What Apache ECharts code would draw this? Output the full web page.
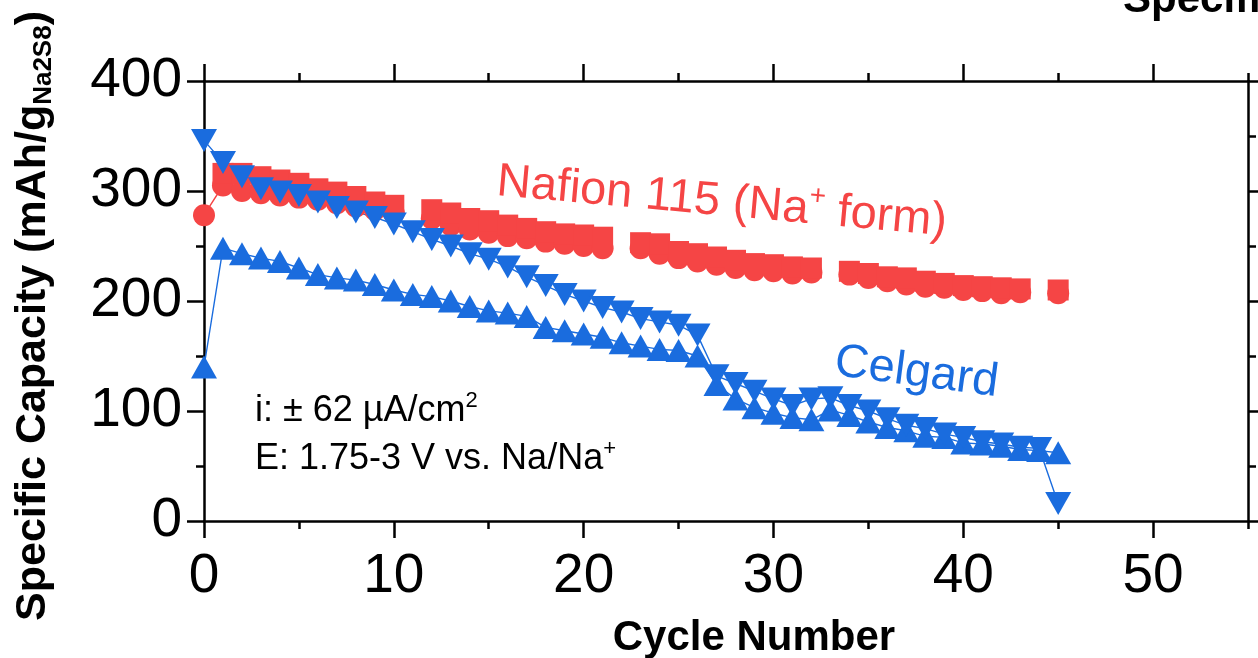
<!DOCTYPE html>
<html>
<head>
<meta charset="utf-8">
<script src="https://cdn.jsdelivr.net/npm/echarts@6/dist/echarts.min.js"></script>
<style>
html, body { margin: 0; padding: 0; background: #fff; }
#main { width: 1258px; height: 658px; }
</style>
</head>
<body>
<div id="main"></div>
<script>
const cycles = [0, 1, 2, 3, 4, 5, 6, 7, 8, 9, 10, 11, 12, 13, 14, 15, 16, 17, 18, 19, 20, 21, 22,
    23, 24, 25, 26, 27, 28, 29, 30, 31, 32, 33, 34, 35, 36, 37, 38, 39, 40, 41, 42, 43, 44, 45];

// Nafion 115 (circles / squares), null = no point that cycle
const nafionCircle = [278, 305, 300, 298, 296, 294, 292, 289, 286, 283, 280, null, 275, 269, 265, 262, 259, 257,
    254, 252, 250, 248, null, 248, 243, 239, 236, 233, 230, 228, 227, 225, 226, null, 224, 221, 218, 215, 213, 212,
    210, 209, 207, 208, null, 207];
const nafionSquare = [null, 316, 316, 313, 310, 307, 302, 299, 295, 290, 287, null, 283, 280, 275, 273, 269, 266,
    263, 261, 260, 258, null, 253, 252, 245, 243, 240, 237, 234, 233, 231, 230, null, 227, 225, 222, 221, 218, 216,
    214, 213, 212, 211, null, 210];

// Celgard (up / down triangles)
const celgardUp = [140, 248, 243, 239, 236, 230, 224, 221, 219, 215, 210, 206, 204, 200, 195, 191, 189, 186, 176,
    173, 170, 167, 162, 159, 156, 155, 150, 124, 111, 103, 98, 94, 92, 101, 96, 90, 85, 82, 77, 76, 71, 70, 68, 65,
    64, 62];
const celgardDown = [346, 326, 313, 302, 299, 296, 290, 285, 281, 276, 270, 263, 256, 250, 243, 238, 231, 222, 214,
    206, 200, 194, 190, 184, 181, 178, 169, 132, 125, 118, 111, 105, 111, 112, 105, 100, 93, 87, 84, 79, 76, 72, 70,
    67, 66, 16];

const xMajor = [0, 10, 20, 30, 40, 50];
const xMinor = [5, 15, 25, 35, 45, 55];

const red = '#F54545';
const blue = '#1A6CDE';
const font = 'Liberation Sans, Arial, sans-serif';

function pairs(vals) {
    return cycles.map(function (c, i) {
        return [c, vals[i] === null ? '-' : vals[i]];
    });
}

function xAx(pos, major) {
    return {
        type: 'value', min: 0, max: 55, position: pos,
        axisLine: {show: major, onZero: false, lineStyle: {color: '#000', width: 2.5}},
        axisTick: {show: true, inside: false, length: major ? 17 : 8, customValues: major ? xMajor : xMinor,
            lineStyle: {color: '#000', width: 2.5}},
        axisLabel: {show: major && pos === 'bottom', customValues: xMajor, fontSize: 55, color: '#000',
            fontFamily: font, margin: 28},
        splitLine: {show: false}
    };
}

function yAx(pos) {
    return {
        type: 'value', min: 0, max: 400, interval: 100, position: pos,
        axisLine: {show: true, onZero: false, lineStyle: {color: '#000', width: 2.5}},
        axisTick: {show: true, inside: false, length: 17, lineStyle: {color: '#000', width: 2.5}},
        minorTick: {show: true, splitNumber: 2, length: 8, lineStyle: {color: '#000', width: 2.5}},
        axisLabel: {show: pos === 'left', fontSize: 55, color: '#000', fontFamily: font, margin: 22},
        splitLine: {show: false}
    };
}

function lineSeries(name, vals, color, symbol, size, rotate) {
    return {
        name: name, type: 'line', data: pairs(vals),
        symbol: symbol, symbolSize: size, symbolRotate: rotate || 0,
        showSymbol: true, showAllSymbol: true, connectNulls: false,
        itemStyle: {color: color, opacity: 1},
        lineStyle: {color: color, width: 1.4},
        emphasis: {disabled: true}
    };
}

let myChart = echarts.init(document.getElementById('main'), null, {renderer: 'canvas'});

let option = {
    animation: false,
    backgroundColor: '#fff',
    grid: {left: 204, right: 10, top: 81, bottom: 137, outerBoundsMode: 'none'},
    xAxis: [xAx('bottom', true), xAx('top', true), xAx('bottom', false), xAx('top', false)],
    yAxis: [yAx('left'), yAx('right')],
    series: [
        lineSeries('Nafion circle', nafionCircle, red, 'circle', 22),
        lineSeries('Nafion square', nafionSquare, red, 'rect', 21),
        lineSeries('Celgard up', celgardUp, blue, 'triangle', [26, 23]),
        lineSeries('Celgard down', celgardDown, blue, 'triangle', [26, 23], 180)
    ],
    graphic: [
        {
            type: 'text', x: 33, y: 316, rotation: Math.PI / 2,
            style: {
                text: '{a|Specific Capacity (mAh/g}{b|Na2S8}{a|)}',
                align: 'center', verticalAlign: 'middle',
                rich: {
                    a: {fontSize: 43, fontWeight: 'bold', fontFamily: font, fill: '#000', lineHeight: 48},
                    b: {fontSize: 26, fontWeight: 'bold', fontFamily: font, fill: '#000', lineHeight: 26,
                        verticalAlign: 'bottom'}
                }
            }
        },
        {
            type: 'text', x: 754, y: 638,
            style: {text: 'Cycle Number', fontSize: 42, fontWeight: 'bold', fontFamily: font, fill: '#000',
                align: 'center', verticalAlign: 'middle'}
        },
        {
            type: 'text', x: 1123, y: 21,
            style: {text: 'Specific Capacity', fontSize: 42, fontWeight: 'bold', fontFamily: font, fill: '#000',
                align: 'left', verticalAlign: 'bottom'}
        },
        {
            type: 'text', x: 497, y: 182, rotation: -0.09,
            style: {
                text: '{t|Nafion 115 (Na}{s|+}{t| form)}',
                align: 'left', verticalAlign: 'middle',
                rich: {
                    t: {fontSize: 47, fontFamily: font, fill: red, lineHeight: 56},
                    s: {fontSize: 28, fontFamily: font, fill: red, lineHeight: 34, verticalAlign: 'top'}
                }
            }
        },
        {
            type: 'text', x: 835, y: 362, rotation: -0.13,
            style: {text: 'Celgard', fontSize: 47, fontFamily: font, fill: blue, align: 'left',
                verticalAlign: 'middle'}
        },
        {
            type: 'text', x: 255, y: 411,
            style: {
                text: '{t|i: \u00b1 62 \u00b5A/cm}{s|2}',
                align: 'left', verticalAlign: 'middle',
                rich: {
                    t: {fontSize: 36, fontFamily: font, fill: '#000', lineHeight: 42},
                    s: {fontSize: 22, fontFamily: font, fill: '#000', lineHeight: 26, verticalAlign: 'top'}
                }
            }
        },
        {
            type: 'text', x: 255, y: 459,
            style: {
                text: '{t|E: 1.75-3 V vs. Na/Na}{s|+}',
                align: 'left', verticalAlign: 'middle',
                rich: {
                    t: {fontSize: 36, fontFamily: font, fill: '#000', lineHeight: 42},
                    s: {fontSize: 22, fontFamily: font, fill: '#000', lineHeight: 26, verticalAlign: 'top'}
                }
            }
        }
    ]
};

myChart.setOption(option);
</script>
</body>
</html>
